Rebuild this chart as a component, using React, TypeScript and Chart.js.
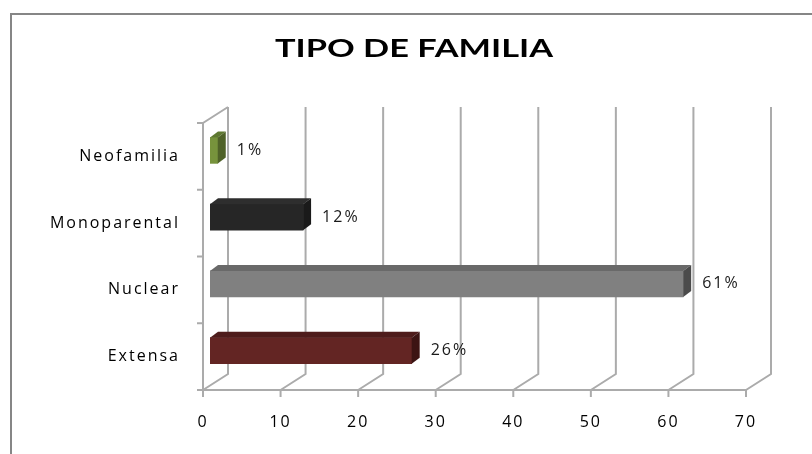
import React, { useEffect, useRef } from 'react';
import { Chart, registerables } from 'chart.js';

Chart.register(...registerables);

// ---- data ----
const categories = ['Neofamilia', 'Monoparental', 'Nuclear', 'Extensa'];
const values = [1, 12, 61, 26];
const percentLabels = ['1%', '12%', '61%', '26%'];
const xTicks = [0, 10, 20, 30, 40, 50, 60, 70];
const chartTitle = 'TIPO DE FAMILIA';

// ---- styles ----
const frontColors = ['#77933C', '#262626', '#808080', '#632523'];
const topColors = ['#5e7830', '#2e2e2e', '#696969', '#4e1c1b'];
const sideColors = ['#4F6228', '#1a1a1a', '#4b4b4b', '#3c1413'];
const FONT = '"Open Sans", "DejaVu Sans", sans-serif';
const TITLE_FONT = 'Lato, "Open Sans", sans-serif';
const WALL_DX = 25;
const WALL_DY = 16;
const BAR_OX = 7;
const BAR_OY = 6;
const BAR_DX = 8;
const BAR_DY = 6;

const threeD = {
  id: 'threeD',
  beforeDraw(chart: any) {
    const { ctx, chartArea: a, scales } = chart;
    const xs = scales.x;
    const ys = scales.y;
    ctx.save();
    ctx.letterSpacing = '0px';
    // outer frame
    ctx.strokeStyle = '#868686';
    ctx.lineWidth = 2;
    ctx.beginPath();
    ctx.moveTo(11, 460);
    ctx.lineTo(11, 14);
    ctx.lineTo(820, 14);
    ctx.stroke();

    // title (stretched like the original)
    ctx.save();
    ctx.font = 'bold 24px ' + TITLE_FONT;
    ctx.fillStyle = '#000';
    const w = ctx.measureText(chartTitle).width;
    ctx.translate(414, 49);
    ctx.scale(278 / w, 1);
    ctx.textAlign = 'center';
    ctx.textBaseline = 'middle';
    ctx.fillText(chartTitle, 0, 0);
    ctx.restore();

    // back wall grid lines and floor diagonals
    ctx.strokeStyle = '#ababab';
    ctx.lineWidth = 2;
    xTicks.forEach((v) => {
      const px = xs.getPixelForValue(v);
      ctx.beginPath();
      ctx.moveTo(px, a.bottom);
      ctx.lineTo(px + WALL_DX, a.bottom - WALL_DY);
      ctx.lineTo(px + WALL_DX, a.top - WALL_DY);
      ctx.stroke();
    });
    // side wall outline
    ctx.beginPath();
    ctx.moveTo(a.left, a.bottom);
    ctx.lineTo(a.left, a.top);
    ctx.lineTo(a.left + WALL_DX, a.top - WALL_DY);
    ctx.stroke();
    // front x axis
    ctx.beginPath();
    ctx.moveTo(a.left, a.bottom);
    ctx.lineTo(a.right, a.bottom);
    ctx.stroke();
    // tick marks x
    xTicks.forEach((v) => {
      const px = xs.getPixelForValue(v);
      ctx.beginPath();
      ctx.moveTo(px, a.bottom);
      ctx.lineTo(px, a.bottom + 7);
      ctx.stroke();
    });
    // tick marks y (category boundaries)
    const step = ys.getPixelForValue(1) - ys.getPixelForValue(0);
    for (let i = 0; i <= categories.length; i++) {
      const py = ys.getPixelForValue(0) - step / 2 + i * step;
      ctx.beginPath();
      ctx.moveTo(a.left - 6, py);
      ctx.lineTo(a.left, py);
      ctx.stroke();
    }
    ctx.restore();
    ctx.letterSpacing = '2px';
  },
  beforeDatasetsDraw(chart: any) {
    chart.ctx.save();
    chart.ctx.translate(BAR_OX, -BAR_OY);
  },
  afterDatasetsDraw(chart: any) {
    const { ctx } = chart;
    const meta = chart.getDatasetMeta(0);
    meta.data.forEach((bar: any, i: number) => {
      const p = bar.getProps(['x', 'y', 'base', 'height'], true);
      const x0 = Math.min(p.base, p.x);
      const x1 = Math.max(p.base, p.x);
      const yt = p.y - p.height / 2;
      const yb = p.y + p.height / 2;
      ctx.fillStyle = topColors[i];
      ctx.beginPath();
      ctx.moveTo(x0, yt);
      ctx.lineTo(x0 + BAR_DX, yt - BAR_DY);
      ctx.lineTo(x1 + BAR_DX, yt - BAR_DY);
      ctx.lineTo(x1, yt);
      ctx.closePath();
      ctx.fill();
      ctx.fillStyle = sideColors[i];
      ctx.beginPath();
      ctx.moveTo(x1, yt);
      ctx.lineTo(x1 + BAR_DX, yt - BAR_DY);
      ctx.lineTo(x1 + BAR_DX, yb - BAR_DY);
      ctx.lineTo(x1, yb);
      ctx.closePath();
      ctx.fill();
    });
    // value labels
    ctx.font = '16px ' + FONT;
    ctx.fillStyle = '#1a1a1a';
    ctx.textAlign = 'left';
    ctx.textBaseline = 'middle';
    meta.data.forEach((bar: any, i: number) => {
      const p = bar.getProps(['x', 'y'], true);
      ctx.fillText(percentLabels[i], p.x + 19, p.y);
    });
    ctx.restore();
  },
};

export default function App() {
  const ref = useRef<HTMLCanvasElement>(null);
  useEffect(() => {
    if (!ref.current) return;
    const chart = new Chart(ref.current, {
      type: 'bar',
      data: {
        labels: categories,
        datasets: [
          {
            data: values,
            backgroundColor: frontColors,
            borderWidth: 0,
            barThickness: 26,
          },
        ],
      },
      options: {
        indexAxis: 'y',
        responsive: false,
        animation: false,
        events: [],
        layout: { padding: { top: 123, right: 66, bottom: 0, left: 0 } },
        plugins: { legend: { display: false }, tooltip: { enabled: false }, title: { display: false } },
        scales: {
          x: {
            type: 'linear',
            min: 0,
            max: 70,
            afterFit: (s: any) => {
              s.height = 64;
            },
            afterBuildTicks: (s: any) => {
              s.ticks = xTicks.map((v) => ({ value: v }));
            },
            grid: { display: false, drawTicks: false },
            border: { display: false },
            ticks: { padding: 23, color: '#000', font: { family: FONT, size: 16 } },
          },
          y: {
            type: 'category',
            afterFit: (s: any) => {
              s.width = 203;
            },
            grid: { display: false, drawTicks: false },
            border: { display: false },
            ticks: { padding: 23, color: '#000', font: { family: FONT, size: 16 } },
          },
        },
      },
      plugins: [threeD],
    });
    return () => chart.destroy();
  }, []);
  return (
    <div style={{ position: 'fixed', left: 0, top: 0, width: 812, height: 454, background: '#fff' }}>
      <canvas ref={ref} width={812} height={454} style={{ display: 'block' }} />
    </div>
  );
}
